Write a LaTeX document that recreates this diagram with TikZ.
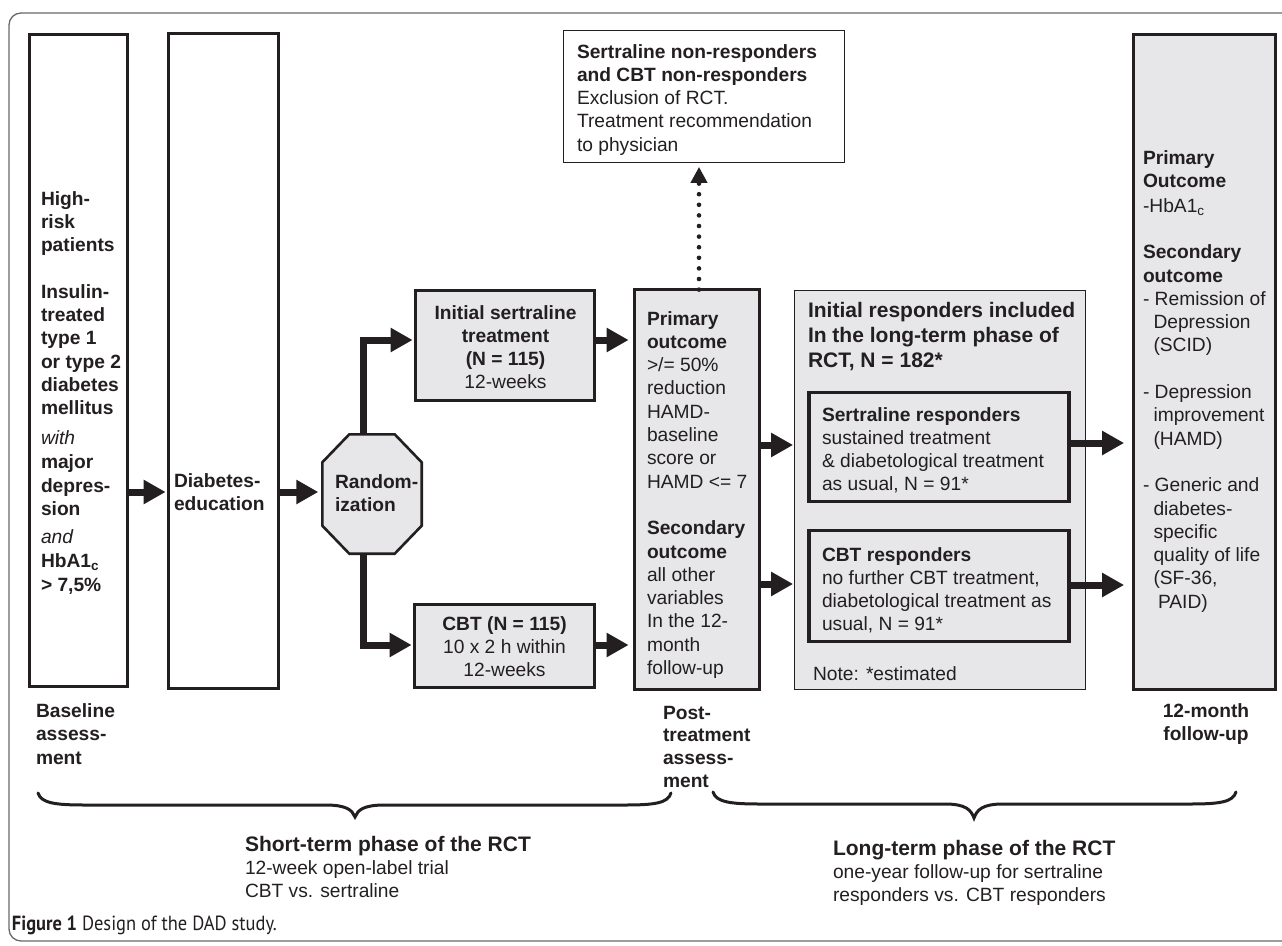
\documentclass[tikz,border=0pt]{standalone}
\usepackage{fontspec}
\setmainfont{Liberation Sans}
\newfontfamily\capfont[FakeStretch=0.9]{PT Sans}
\usetikzlibrary{arrows.meta,calc}
\definecolor{ink}{RGB}{35,31,32}
\definecolor{boxgray}{RGB}{231,231,233}
\definecolor{framegray}{RGB}{105,105,108}
\newcommand{\txtL}[1]{\begin{tabular}[t]{@{}l@{}}#1\end{tabular}}
\newcommand{\txtC}[1]{\begin{tabular}[t]{@{}c@{}}#1\end{tabular}}
\begin{document}
\begin{tikzpicture}[x=1pt,y=-1pt,
  every node/.style={inner sep=0pt, outer sep=0pt, text=ink, font=\fontsize{19.2}{23.3}\selectfont},
  thickbox/.style={draw=ink, line width=3.2pt, rectangle},
  thinbox/.style={draw=ink, line width=1.3pt, rectangle},
  grayfill/.style={fill=boxgray},
  whitefill/.style={fill=white},
  txt/.style={anchor=base west},
  ctxt/.style={anchor=base},
  bigarrow/.style={draw=ink, line width=7pt, line join=miter, -{Triangle[length=22pt,width=23pt]}},
  dotarrow/.style={draw=ink, line width=4.6pt, line cap=round, dash pattern=on 0pt off 10.6pt, -{Triangle[length=16pt,width=16pt]}},
  bracestyle/.style={draw=ink, line width=3pt, line cap=round},
]
\useasboundingbox (0,0) rectangle (1282,945);
\clip (0,0) rectangle (1282,945);
% outer frame
\draw[framegray, line width=1.3pt, rounded corners=12pt] (9,13) rectangle (1300,941);

% boxes
\node[thickbox, whitefill, minimum width=97.8pt, minimum height=651.8pt] (base) at (78.5,360.5) {};
\node[thickbox, whitefill, minimum width=109.8pt, minimum height=654.8pt] (edu) at (223.5,361) {};
\node[minimum width=99.4pt, minimum height=119.4pt] (rand) at (372,494) {};
\draw[ink, line width=2.6pt, fill=boxgray, line join=miter]
  ([xshift=27pt]rand.north west) -- ([xshift=-27pt]rand.north east) -- ([yshift=-28pt]rand.north east)
  -- ([yshift=28pt]rand.south east) -- ([xshift=-27pt]rand.south east) -- ([xshift=27pt]rand.south west)
  -- ([yshift=28pt]rand.south west) -- ([yshift=-28pt]rand.north west) -- cycle;
\node[thickbox, grayfill, minimum width=178.8pt, minimum height=109.8pt] (sert) at (505,345.5) {};
\node[thickbox, grayfill, minimum width=179.8pt, minimum height=82.8pt] (cbt) at (504.5,646) {};
\node[thickbox, grayfill, minimum width=124.8pt, minimum height=399.8pt] (post) at (697,489.5) {};
\node[thinbox, whitefill, minimum width=280.8pt, minimum height=131.8pt] (nonr) at (704,96.5) {};
\node[thinbox, grayfill, minimum width=290.8pt, minimum height=398.8pt] (resp) at (940,490) {};
\node[thickbox, grayfill, minimum width=260pt, minimum height=108.8pt] (sresp) at (939,447) {};
\node[thickbox, grayfill, minimum width=260pt, minimum height=110.8pt] (cresp) at (939,586) {};
\node[thickbox, grayfill, minimum width=141.8pt, minimum height=654.8pt] (fu) at (1204.5,362) {};

% texts in boxes
\node[txt, font=\fontsize{19.2}{23.3}\selectfont\bfseries] (baseT) at (41,205) {\txtL{High-\\risk\\patients\\[23.3pt]Insulin-\\treated\\type 1\\or type 2\\diabetes\\mellitus\\[6pt]\normalfont\itshape with\\[1.5pt]major\\depres-\\sion\\[5pt]\normalfont\itshape and\\[0.7pt]HbA1\textsubscript{c}\\> 7,5\%}};
\node[txt, font=\fontsize{19.2}{23.3}\selectfont\bfseries] (eduT) at (174,487) {\txtL{Diabetes-\\education}};
\node[txt, font=\fontsize{19.2}{23.3}\selectfont\bfseries] (randT) at (335,488) {\txtL{Random-\\ization}};
\node[ctxt] (sertT) at (505.5,319) {\txtC{\textbf{Initial sertraline}\\\textbf{treatment}\\\textbf{(N = 115)}\\12-weeks}};
\node[ctxt] (cbtT) at (504.5,630) {\txtC{\textbf{CBT (N = 115)}\\10 x 2 h within\\12-weeks}};
\node[txt] (postT) at (647,325) {\txtL{\textbf{Primary}\\\textbf{outcome}\\>/= 50\%\\reduction\\HAMD-\\baseline\\score or\\HAMD <= 7\\[23.3pt]\textbf{Secondary}\\\textbf{outcome}\\all other\\variables\\In the 12-\\month\\follow-up}};
\node[txt] (nonrT) at (577,58) {\txtL{\textbf{Sertraline non-responders}\\\textbf{and CBT non-responders}\\Exclusion of RCT.\\Treatment recommendation\\to physician}};
\node[txt, font=\fontsize{21}{25}\selectfont\bfseries] (respT) at (808,317) {\txtL{Initial responders included\\In the long-term phase of\\RCT, N = 182*}};
\node[txt] (srespT) at (822,421) {\txtL{\textbf{Sertraline responders}\\sustained treatment\\\& diabetological treatment\\as usual, N = 91*}};
\node[txt] (crespT) at (822,561) {\txtL{\textbf{CBT responders}\\no further CBT treatment,\\diabetological treatment as\\usual, N = 91*}};
\node[txt] (noteT) at (813,680) {Note: *estimated};
\node[txt] (fuT) at (1143,164) {\txtL{\textbf{Primary}\\\textbf{Outcome}\\[1.5pt]-HbA1\textsubscript{c}\\[23.3pt]\textbf{Secondary}\\\textbf{outcome}\\- Remission of\\\hspace*{10.5pt}Depression\\\hspace*{10.5pt}(SCID)\\[23.3pt]- Depression\\\hspace*{10.5pt}improvement\\\hspace*{10.5pt}(HAMD)\\[23.3pt]- Generic and\\\hspace*{10.5pt}diabetes-\\\hspace*{10.5pt}specific\\\hspace*{10.5pt}quality of life\\\hspace*{10.5pt}(SF-36,\\\hspace*{15pt}PAID)}};

% labels under boxes
\node[txt, font=\fontsize{19.2}{23.8}\selectfont\bfseries] (baseL) at (36,717) {\txtL{Baseline\\assess-\\ment}};
\node[txt, font=\fontsize{19.2}{22.8}\selectfont\bfseries] (postL) at (663,719) {\txtL{Post-\\treatment\\assess-\\ment}};
\node[ctxt, font=\fontsize{19.2}{23.3}\selectfont\bfseries] (fuL) at (1206,717) {\txtC{12-month\\follow-up}};

% connector coordinates
\coordinate (rs) at (363,0);
\coordinate (dx) at (699,0);
\coordinate (yAB) at (0,492);
\coordinate (upY) at (0,340);
\coordinate (dnY) at (0,645);
\coordinate (y1) at (0,445);
\coordinate (y2) at (0,584);
\coordinate (y3) at (0,443);
\coordinate (y4) at (0,585);

% connectors
\draw[bigarrow, shorten >=3pt] (base.east |- yAB) -- (edu.west |- yAB);
\draw[bigarrow, shorten >=4pt] (edu.east |- yAB) -- (rand.west |- yAB);
\draw[bigarrow, shorten >=3pt] (rand.north -| rs) |- (sert.west |- upY);
\draw[bigarrow, shorten >=3pt] (rand.south -| rs) |- (cbt.west |- dnY);
\draw[bigarrow, shorten >=6pt] (sert.east |- upY) -- (post.west |- upY);
\draw[bigarrow, shorten >=6pt] (cbt.east |- dnY) -- (post.west |- dnY);
\draw[bigarrow, shorten >=1.5pt] (post.east |- y1) -- (resp.west |- y1);
\draw[bigarrow, shorten >=1.5pt] (post.east |- y2) -- (resp.west |- y2);
\draw[bigarrow, shorten >=9.5pt] (sresp.east |- y3) -- (fu.west |- y3);
\draw[bigarrow, shorten >=9.5pt] (cresp.east |- y4) -- (fu.west |- y4);
\draw[dotarrow, shorten >=4.5pt] (post.north -| dx) -- (nonr.south -| dx);

% braces
\draw[bracestyle] (38,793) .. controls (41,803) and (55,805) .. (85,805) -- (325,805)
  .. controls (347,805) and (352,810) .. (355,817) .. controls (358,810) and (363,805) .. (385,805)
  -- (625,805) .. controls (655,805) and (668,803) .. (671,793);
\draw[bracestyle] (713,792) .. controls (716,802) and (730,804) .. (760,804) -- (945,804)
  .. controls (966,804) and (971,810) .. (974,818) .. controls (977,810) and (982,804) .. (1003,804)
  -- (1190,804) .. controls (1220,804) and (1233,802) .. (1236,792);

% phase texts
\node[txt] (shortT) at (245,851) {\txtL{\fontsize{21}{24}\selectfont\bfseries Short-term phase of the RCT\\12-week open-label trial\\CBT vs. sertraline}};
\node[txt] (longT) at (833,855) {\txtL{\fontsize{21}{24}\selectfont\bfseries Long-term phase of the RCT\\one-year follow-up for sertraline\\responders vs. CBT responders}};

% caption
\node[txt, font=\capfont\fontsize{20.5}{24}\selectfont] (cap) at (12,930) {\textbf{Figure 1} Design of the DAD study.};
\end{tikzpicture}
\end{document}
